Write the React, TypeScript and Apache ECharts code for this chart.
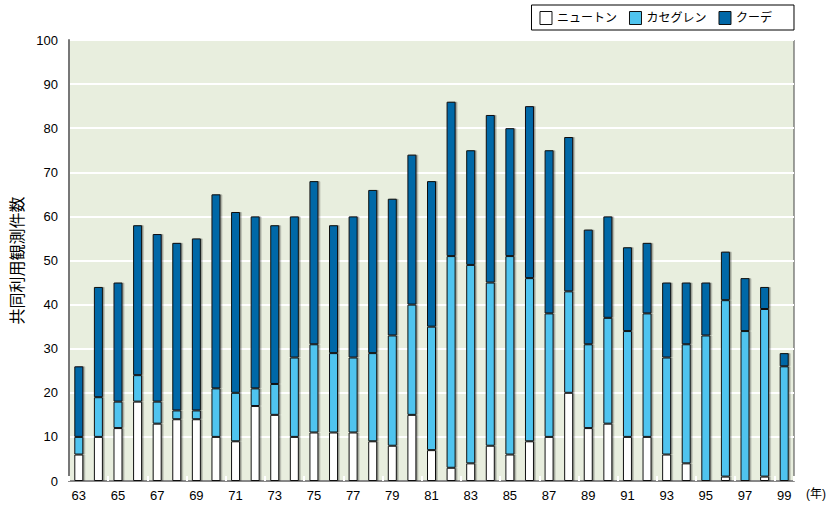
import React, { useEffect, useRef } from "react";
import * as echarts from "echarts";

const years = [
  "63","64","65","66","67","68","69","70","71","72","73","74","75","76","77","78","79","80","81",
  "82","83","84","85","86","87","88","89","90","91","92","93","94","95","96","97","98","99",
];
const newton = [6,10,12,18,13,14,14,10,9,17,15,10,11,11,11,9,8,15,7,3,4,8,6,9,10,20,12,13,10,10,6,4,0,1,0,1,0];
const cassegrain = [4,9,6,6,5,2,2,11,11,4,7,18,20,18,17,20,25,25,28,48,45,37,45,37,28,23,19,24,24,28,22,27,33,40,34,38,26];
const coude = [16,25,27,34,38,38,39,44,41,39,36,32,37,29,32,37,31,34,33,35,26,38,29,39,37,35,26,23,19,16,17,14,12,11,12,5,3];
const seriesNames = ["ニュートン", "カセグレン", "クーデ"];
const seriesColors = ["#FFFFFF", "#4FC4EF", "#0067A7"];
const yTicks = [0, 100, 10];

const FONT = "'Liberation Sans', Arial, 'Noto Sans CJK JP', sans-serif";

export default function App() {
  const ref = useRef<HTMLDivElement>(null);
  useEffect(() => {
    if (!ref.current) return;
    const chart = echarts.init(ref.current, undefined, { renderer: "svg" });
    const data = [newton, cassegrain, coude];
    chart.setOption({
      animation: false,
      textStyle: { fontFamily: FONT },
      grid: {
        left: 69,
        right: 37,
        top: 40,
        bottom: 26,
        show: true,
        backgroundColor: "#E8EEDE",
        borderColor: "#444",
        borderWidth: 1,
      },
      legend: {
        right: 37,
        top: 5,
        data: seriesNames.map((n) => ({ name: n, icon: "rect" })),
        orient: "horizontal",
        borderColor: "#000",
        borderWidth: 1,
        padding: [6, 22, 5, 8],
        itemWidth: 12,
        itemHeight: 13,
        itemGap: 12,
        itemStyle: { borderColor: "#111", borderWidth: 1 },
        textStyle: { fontSize: 12, color: "#000", fontFamily: FONT },
      },
      xAxis: {
        type: "category",
        data: years,
        axisLine: { show: true, lineStyle: { color: "#888", width: 2 } },
        axisTick: {
          show: true,
          inside: true,
          length: 5,
          lineStyle: { color: "#FFFFFF", width: 2 },
        },
        axisLabel: {
          interval: 1,
          fontSize: 13,
          color: "#000",
          margin: 8,
          fontFamily: FONT,
        },
      },
      yAxis: {
        type: "value",
        min: yTicks[0],
        max: yTicks[1],
        interval: yTicks[2],
        name: "共同利用観測件数",
        nameLocation: "middle",
        nameGap: 44,
        nameRotate: 90,
        nameTextStyle: { fontSize: 16, color: "#000", fontFamily: FONT },
        axisLine: { show: true, lineStyle: { color: "#777", width: 2 } },
        axisTick: { show: false },
        axisLabel: { fontSize: 13, color: "#000", margin: 11, fontFamily: FONT },
        splitLine: { show: true, lineStyle: { color: "#FFFFFF", width: 2 } },
      },
      graphic: [
        {
          type: "text",
          left: 806,
          top: 488,
          style: { text: "(年)", fontSize: 12, fill: "#000", fontFamily: FONT },
        },
      ],
      series: seriesNames.map((name, i) => ({
        name,
        type: "bar",
        stack: "total",
        data: data[i],
        barWidth: 9,
        itemStyle: {
          color: seriesColors[i],
          borderColor: "#111",
          borderWidth: 1,
          shadowColor: "rgba(0,0,0,0.35)",
          shadowOffsetX: 1.5,
          shadowOffsetY: 0,
          shadowBlur: 1,
        },
      })),
    });
    return () => chart.dispose();
  }, []);
  return <div ref={ref} style={{ width: 831, height: 507, position: "absolute", left: 0, top: 0 }} />;
}
